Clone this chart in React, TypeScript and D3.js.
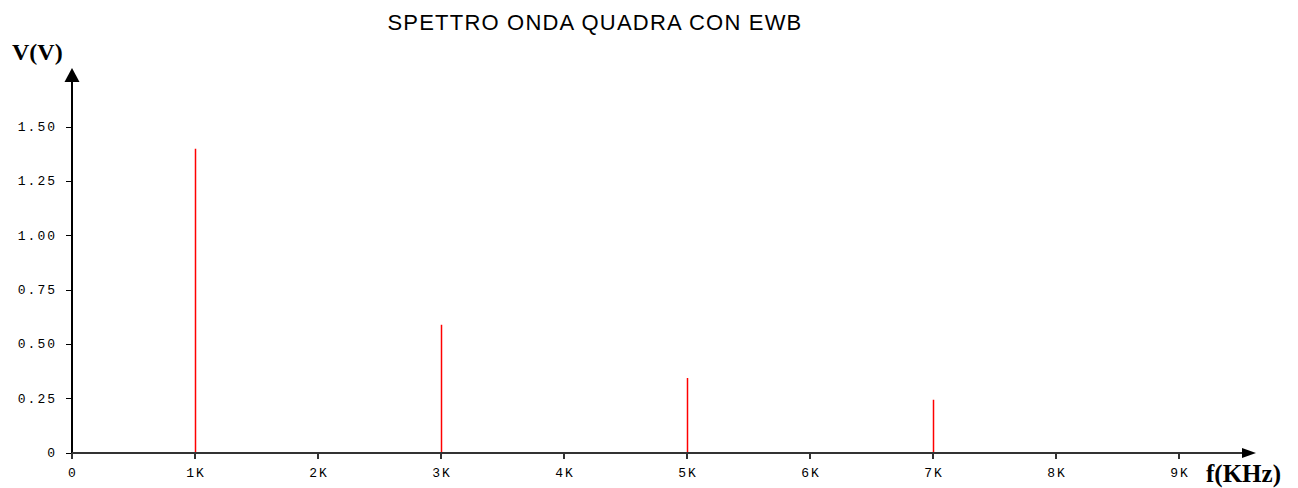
import React from "react";
import * as d3 from "d3";

const title = "SPETTRO ONDA QUADRA CON EWB";
const yLabel = "V(V)";
const xLabel = "f(KHz)";
const freqs = [1, 3, 5, 7];
const amplitudes = [1.4, 0.59, 0.345, 0.245];
const xTicks = [0, 1, 2, 3, 4, 5, 6, 7, 8, 9];
const xTickLabels = ["0", "1K", "2K", "3K", "4K", "5K", "6K", "7K", "8K", "9K"];
const yTicks = [0, 0.25, 0.5, 0.75, 1.0, 1.25, 1.5];
const yTickLabels = ["0", "0.25", "0.50", "0.75", "1.00", "1.25", "1.50"];

export default function App() {
  const W = 1298, H = 488;
  const x = d3.scaleLinear().domain([0, 9]).range([72, 1179]);
  const y = d3.scaleLinear().domain([0, 1.5]).range([453, 127]);
  const x0 = x(0), y0 = y(0);
  const mono = "'Liberation Mono', 'DejaVu Sans Mono', monospace";
  const serif = "'Liberation Serif', 'DejaVu Serif', serif";
  return (
    <svg width={W} height={H} style={{ position: "absolute", left: 0, top: 0, background: "#fff" }}>
      <text x={595} y={30} textAnchor="middle" fontFamily="'Liberation Sans', Arial, sans-serif" fontSize={22} letterSpacing={1.2} fill="#000">{title}</text>
      <text x={12} y={60} fontFamily={serif} fontWeight="bold" fontSize={24} fill="#000">{yLabel}</text>
      <text x={1206} y={482} fontFamily={serif} fontWeight="bold" fontSize={25} fill="#000">{xLabel}</text>
      {/* y axis */}
      <line x1={x0} x2={x0} y1={80} y2={y0} stroke="#000" strokeWidth={2} shapeRendering="crispEdges" />
      <path d={`M${x0},68 L${x0 - 7.5},82 L${x0 + 7.5},82 Z`} fill="#000" />
      {yTicks.map((t, i) => (
        <g key={i}>
          <line x1={x0 - 6} x2={x0} y1={y(t)} y2={y(t)} stroke="#000" strokeWidth={1} shapeRendering="crispEdges" />
          <text x={57} y={y(t) + 4} textAnchor="end" fontFamily={mono} fontSize={13} letterSpacing={2} fill="#000">{yTickLabels[i]}</text>
        </g>
      ))}
      {/* x axis */}
      <line x1={x0} x2={1244} y1={y0} y2={y0} stroke="#333" strokeWidth={2} shapeRendering="crispEdges" />
      <path d={`M1256,${y0} L1242,${y0 - 5} L1242,${y0 + 5} Z`} fill="#000" />
      {xTicks.map((t, i) => (
        <g key={i}>
          <line x1={x(t)} x2={x(t)} y1={y0} y2={y0 + 6} stroke="#333" strokeWidth={1.5} shapeRendering="crispEdges" />
          <text x={x(t) + 1} y={477} textAnchor="middle" fontFamily={mono} fontSize={13} letterSpacing={2} fill="#000">{xTickLabels[i]}</text>
        </g>
      ))}
      {/* spectral lines */}
      {freqs.map((f, i) => (
        <line key={i} x1={x(f) + 0.5} x2={x(f) + 0.5} y1={y0 - 1} y2={y(amplitudes[i])} stroke="#ff0000" strokeWidth={1.5} />
      ))}
    </svg>
  );
}
